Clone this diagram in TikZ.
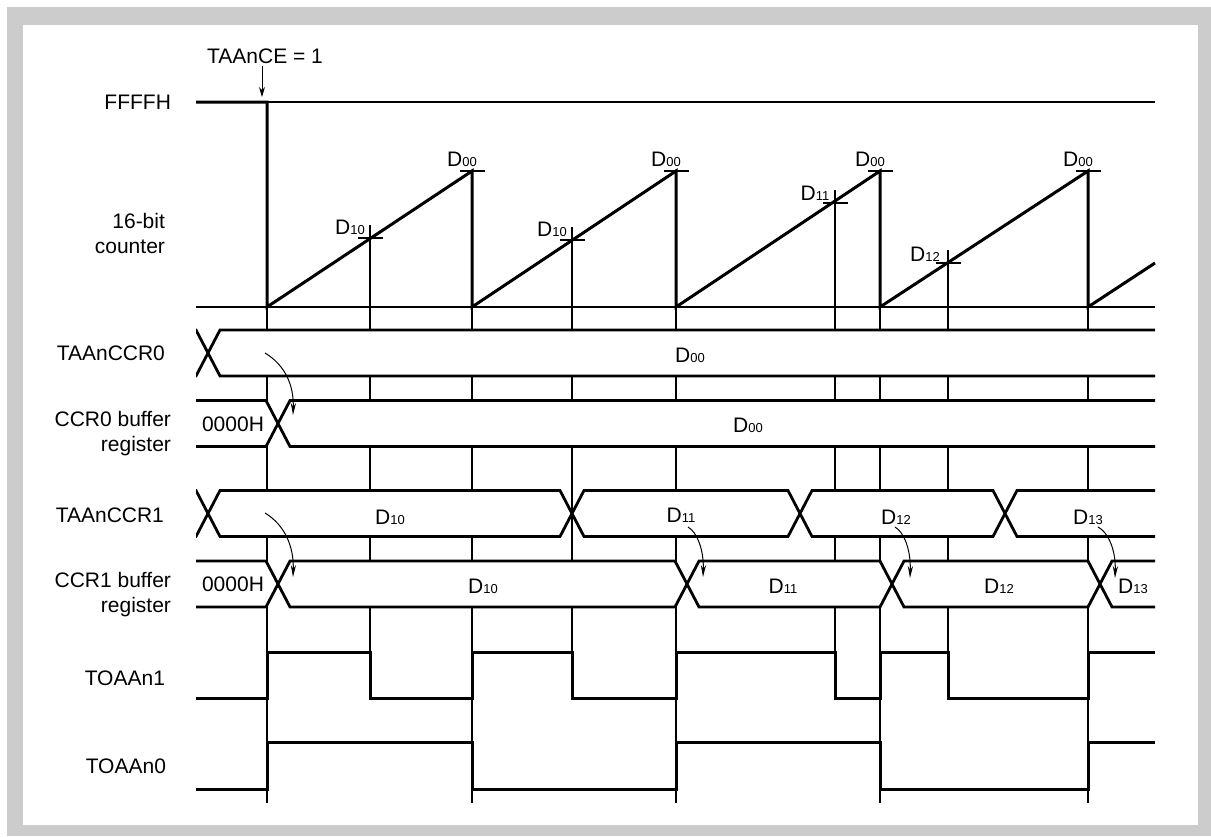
\documentclass[tikz,border=0pt]{standalone}
\usepackage{fontspec}
\setmainfont{Liberation Sans}
\usetikzlibrary{arrows.meta,positioning}
\definecolor{framegray}{RGB}{204,204,204}

% value with small index, e.g. D00
\newcommand{\Dval}[1]{D{\fontsize{6.5}{7}\selectfont #1}}
% one data segment of a bus, from crossing #1 to crossing #2, centre line #3
\newcommand{\busseg}[3]{%
  \filldraw[bus] (#1,#3) -- (#1+12,#3-23) -- (#2-12,#3-23) -- (#2,#3)
    -- (#2-12,#3+23) -- (#1+12,#3+23) -- cycle;}

\begin{document}
\begin{tikzpicture}[x=0.5pt, y=-0.5pt,
  sig/.style={line width=1.5pt},
  bus/.style={line width=1.4pt, fill=white},
  guide/.style={line width=0.6pt},
  lbl/.style={anchor=east, align=right, font=\fontsize{10.5}{12.5}\selectfont},
  val/.style={inner sep=1pt, font=\fontsize{10.5}{12}\selectfont},
  load/.style={-{Stealth[length=6pt,width=2.6pt]}, line width=0.5pt}]
\useasboundingbox (0,0) rectangle (1211,836);
% Frame
\fill[framegray] (7,7) rectangle (1211,836);
\fill[white] (23,25) rectangle (1198,825);

% 16-bit counter
\node[lbl] (ffff) at (178,102) {FFFFH};
\node[lbl] (cnt) at (172,233) {16-bit\\counter};
\node[val] (ce) at (265,56) {TAAnCE = 1};
\coordinate (start) at (262,97);
\draw[-{Stealth[length=5pt,width=3pt]}, line width=0.5pt] (ce.south -| start) -- (start);

% Timing guides
\foreach \x in {267,472,676,880,1088} \draw[guide] (\x,307) -- (\x,803);
\foreach \x/\y in {370/238,572/240,835/203,948/263} {
  \draw[guide] (\x,\y-13) -- (\x,698);
  \draw[guide] (\x-12,\y) -- (\x+13,\y);
}
\foreach \x in {472,676,880,1088} \draw[guide] (\x-12,171) -- (\x+13,171);
\draw[guide] (267,102) -- (1155,102);
\draw[guide] (196,307) -- (1155,307);
\draw[sig] (196,102) -- (267,102) -- (267,307) -- (472,171) -- (472,307) -- (676,171)
  -- (676,307) -- (880,171) -- (880,307) -- (1088,171) -- (1088,307) -- (1155,263);

\foreach \x [count=\i] in {472,676,880,1088} \node[val] (top\i) at (\x-10,159) {\Dval{00}};
\node[val] (cmp1) at (350,227) {\Dval{10}};
\node[val] (cmp2) at (552,229) {\Dval{10}};
\node[val] (cmp3) at (815,193) {\Dval{11}};
\node[val] (cmp4) at (925,254) {\Dval{12}};

% Registers
\begin{scope}
\clip (196,0) rectangle (1155,836);
\busseg{100}{208}{353} \busseg{208}{1300}{353}
\busseg{100}{278}{423.5} \busseg{278}{1300}{423.5}
\busseg{100}{208}{513.5} \busseg{208}{572}{513.5} \busseg{572}{800}{513.5}
\busseg{800}{1005}{513.5} \busseg{1005}{1300}{513.5}
\busseg{100}{278}{584} \busseg{278}{687}{584} \busseg{687}{892}{584}
\busseg{892}{1100}{584} \busseg{1100}{1300}{584}
\end{scope}

\node[lbl] (ccr0) at (172,353) {TAAnCCR0};
\node[val] (r0) at (690,355) {\Dval{00}};
\node[lbl] (buf0) at (178,434) {CCR0 buffer\\register};
\node[val] (init0) at (233,424) {0000H};
\node[val] (b0) at (748,425) {\Dval{00}};

\node[lbl] (ccr1) at (171,515) {TAAnCCR1};
\node[val] (r10) at (390,517) {\Dval{10}};
\node[val] (r11) at (681,515) {\Dval{11}};
\node[val] (r12) at (896,517) {\Dval{12}};
\node[val] (r13) at (1088,517) {\Dval{13}};
\node[lbl] (buf1) at (178,595) {CCR1 buffer\\register};
\node[val] (init1) at (233,584) {0000H};
\node[val] (b10) at (483,586) {\Dval{10}};
\node[val] (b11) at (783,586) {\Dval{11}};
\node[val] (b12) at (999,586) {\Dval{12}};
\node[val] (b13) at (1133,586) {\Dval{13}};

% Transfers to the buffers
\coordinate (src0) at (265,353);
\coordinate (dst0) at (293,415);
\coordinate (src1) at (265,513);
\coordinate (dst1) at (293,577);
\coordinate (dst11) at (703,577);
\coordinate (dst12) at (910,578);
\coordinate (dst13) at (1115,578);
\draw[load] (src0) .. controls (285,365) and (294,385) .. (dst0);
\draw[load] (src1) .. controls (285,525) and (294,547) .. (dst1);
\draw[load] (688,527) .. controls (697,532) and (704,550) .. (dst11);
\draw[load] (895,527) .. controls (904,532) and (911,550) .. (dst12);
\draw[load] (1098,527) .. controls (1108,532) and (1116,550) .. (dst13);

% Outputs
\node[lbl] (toa1) at (172,678) {TOAAn1};
\draw[sig] (196,698) -- (267,698) -- (267,652) -- (370,652) -- (370,698) -- (472,698)
  -- (472,652) -- (572,652) -- (572,698) -- (676,698) -- (676,652) -- (835,652)
  -- (835,698) -- (880,698) -- (880,652) -- (948,652) -- (948,698) -- (1088,698)
  -- (1088,652) -- (1155,652);
\node[lbl] (toa0) at (173,766) {TOAAn0};
\draw[sig] (196,789) -- (267,789) -- (267,742) -- (472,742) -- (472,789) -- (676,789)
  -- (676,742) -- (880,742) -- (880,789) -- (1088,789) -- (1088,742) -- (1155,742);
\end{tikzpicture}
\end{document}
